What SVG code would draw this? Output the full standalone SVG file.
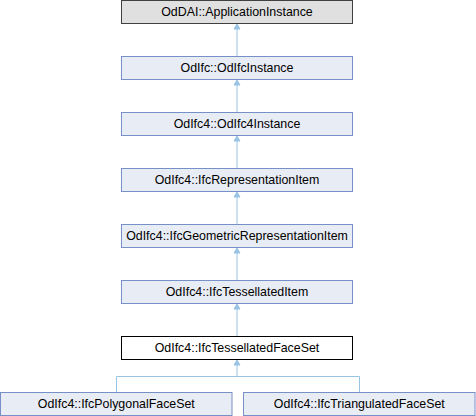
<svg xmlns="http://www.w3.org/2000/svg" width="476" height="416" viewBox="0 0 476 416">
<style>
.n rect{fill:#e8ecf5;stroke:#7890c8;stroke-width:1}
.n text{font-family:"Liberation Sans",Arial,sans-serif;font-size:12.4px;fill:#000;text-anchor:middle}
#root rect{fill:#e0e0e0;stroke:#404040}
#cur rect{fill:#ffffff;stroke:#000000}
.e{stroke:#98c4e6;stroke-width:1;fill:none}
.h{fill:#98c4e6;stroke:#98c4e6;stroke-width:1}
</style>
<rect width="476" height="416" fill="#ffffff"/>
<g id="connectors">
<path class="e" d="M237,29V56.5M237,85V112.5M237,141V168.5M237,197V224.5M237,253V280.5M237,309V336.5"/>
<path class="e" d="M237,365V376.5M116.5,376.5H359.5M116.5,376.5V392.5M359.5,376.5V392.5"/>
<path class="h" d="M237,24L240,29H234Z M237,80L240,85H234Z M237,136L240,141H234Z M237,192L240,197H234Z M237,248L240,253H234Z M237,304L240,309H234Z M237,360L240,365H234Z"/>
</g>
<g id="root" class="n"><rect x="121.5" y="0.5" width="231" height="23"/><text x="237" y="16">OdDAI::ApplicationInstance</text></g>
<g id="n1" class="n"><rect x="121.5" y="56.5" width="231" height="23"/><text x="237" y="72">OdIfc::OdIfcInstance</text></g>
<g id="n2" class="n"><rect x="121.5" y="112.5" width="231" height="23"/><text x="237" y="128">OdIfc4::OdIfc4Instance</text></g>
<g id="n3" class="n"><rect x="121.5" y="168.5" width="231" height="23"/><text x="237" y="184">OdIfc4::IfcRepresentationItem</text></g>
<g id="n4" class="n"><rect x="121.5" y="224.5" width="231" height="23"/><text x="237" y="240">OdIfc4::IfcGeometricRepresentationItem</text></g>
<g id="n5" class="n"><rect x="121.5" y="280.5" width="231" height="23"/><text x="237" y="296">OdIfc4::IfcTessellatedItem</text></g>
<g id="cur" class="n"><rect x="121.5" y="336.5" width="231" height="23"/><text x="237" y="352">OdIfc4::IfcTessellatedFaceSet</text></g>
<g id="n7" class="n"><rect x="0.5" y="392.5" width="231.5" height="23"/><text x="116.3" y="408">OdIfc4::IfcPolygonalFaceSet</text></g>
<g id="n8" class="n"><rect x="243.5" y="392.5" width="231.5" height="23"/><text x="359.3" y="408">OdIfc4::IfcTriangulatedFaceSet</text></g>
</svg>
